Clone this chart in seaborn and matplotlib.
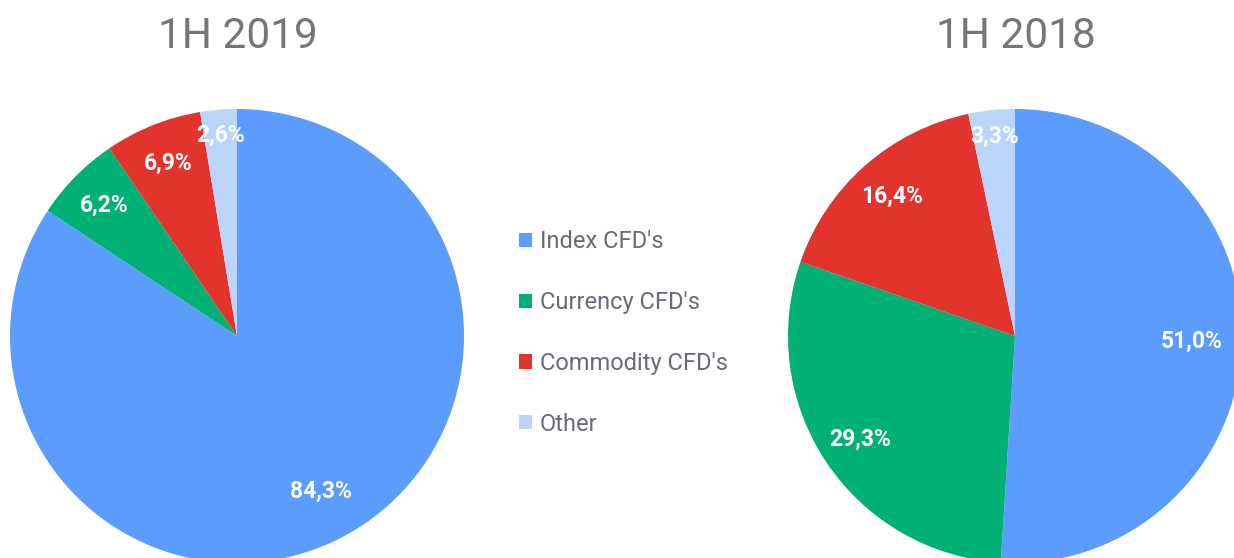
"""
CFD revenue split, 1H 2019 vs 1H 2018 (two pies with a shared legend)
"""

import matplotlib
matplotlib.use('Agg')
import matplotlib.pyplot as plt
import seaborn as sns
import numpy as np

# data
categories = ["Index CFD's", "Currency CFD's", "Commodity CFD's", "Other"]
share_2019 = [84.3, 6.2, 6.9, 2.6]
share_2018 = [51.0, 29.3, 16.4, 3.3]
titles = ['1H 2019', '1H 2018']

colors = sns.color_palette(['#5b9cfd', '#00b074', '#e2332d', '#bad4fa'])

sns.set_style("white")
plt.rcParams['font.family'] = ['Roboto', 'DejaVu Sans']

W, H = 1234, 558
fig = plt.figure(figsize=(W / 100, H / 100), dpi=100)


def fmt_pct(p):
    return f'{p:.1f}%'.replace('.', ',')


def draw_pie(cx, cy, r, values, title):
    # axes box in pixels -> figure fraction (pie radius = 1 fills the box)
    ax = fig.add_axes([(cx - r) / W, (H - cy - r) / H, 2 * r / W, 2 * r / H])
    wedges, texts, autotexts = ax.pie(values, colors=colors, startangle=90, counterclock=False,
                                      autopct=fmt_pct, pctdistance=0.82,
                                      wedgeprops={'linewidth': 0},
                                      textprops={'color': 'white', 'fontsize': 16.5, 'fontweight': 'bold'})
    # small slices: label a bit further out, big slices: a bit further in
    for v, t in zip(values, autotexts):
        x, y = t.get_position()
        if v < 5:
            t.set_position((x * 1.08, y * 1.08))
        elif v > 40:
            t.set_position((x * 0.95, y * 0.95))
    ax.set_xlim(-1, 1)
    ax.set_ylim(-1, 1)
    ax.set_aspect('equal')
    ax.axis('off')
    fig.text(cx / W + 0.001, 1 - 36 / H, title, ha='center', va='center',
             fontsize=30.5, color='#767676')
    return wedges


wedges = draw_pie(237, 336, 227, share_2019, titles[0])
draw_pie(1015, 336, 227, share_2018, titles[1])

leg = fig.legend(wedges, categories, loc='center left', bbox_to_anchor=(510 / W, 1 - 333 / H),
                 frameon=False, fontsize=17, handlelength=0.55, handleheight=0.55,
                 handletextpad=0.3, labelspacing=1.6, borderaxespad=0)
for t in leg.get_texts():
    t.set_color('#686b75')

fig.savefig('out.png', dpi=100)
print("saved out.png")
